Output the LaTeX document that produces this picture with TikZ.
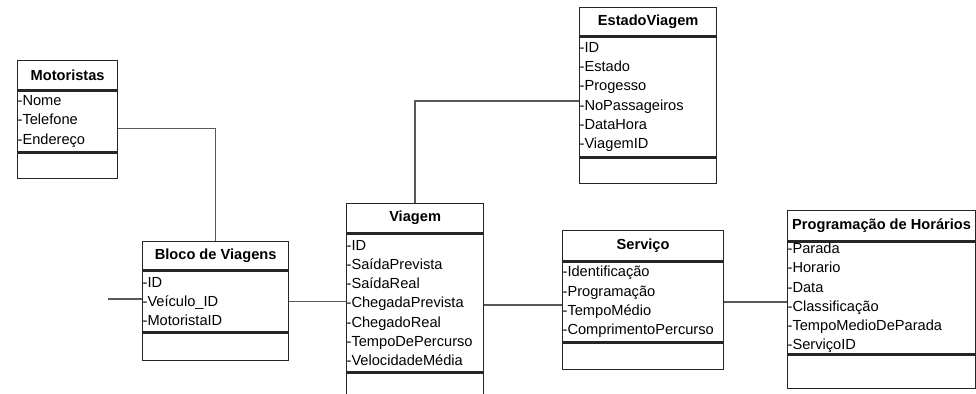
\documentclass[tikz,border=0pt]{standalone}
\usepackage{fontspec}
\setmainfont{Liberation Sans}
\usetikzlibrary{positioning}

\newdimen\pxu
\pxu=0.025cm

\tikzset{
  classbox/.style={draw=black!85, line width=0.9pt, inner sep=0pt,
    font=\fontsize{10.4}{13.7}\selectfont},
  classhead/.style={classbox, anchor=north west,
    font=\fontsize{10.4}{13.7}\selectfont\bfseries},
  classattrs/.style={classbox, align=left},
  classfoot/.style={classbox},
  assoc/.style={draw=black!65, line width=1.2pt}
}

\begin{document}
\begin{tikzpicture}[x=\pxu, y=-\pxu]
  \useasboundingbox (0,0) rectangle (976,394);
  \clip (0,0) rectangle (976,394);

  % Motoristas
  \node[classhead, minimum width=100\pxu, minimum height=29\pxu] (motoristas) at (17,60) {Motoristas};
  \node[classattrs, text width=100\pxu, minimum height=61\pxu, below=0pt of motoristas] (motoristas-attrs)
    {-Nome\\-Telefone\\-Endereço};
  \node[classfoot, minimum width=100\pxu, minimum height=25\pxu, below=0pt of motoristas-attrs] (motoristas-foot) {};

  % Bloco de Viagens
  \node[classhead, minimum width=146\pxu, minimum height=28\pxu] (bloco) at (142,241) {Bloco de Viagens};
  \node[classattrs, text width=146\pxu, minimum height=61\pxu, below=0pt of bloco] (bloco-attrs)
    {-ID\\-Veículo\_ID\\-MotoristaID};
  \node[classfoot, minimum width=146\pxu, minimum height=27\pxu, below=0pt of bloco-attrs] (bloco-foot) {};

  % Viagem
  \node[classhead, minimum width=137\pxu, minimum height=29\pxu] (viagem) at (346,203) {Viagem};
  \node[classattrs, text width=137\pxu, minimum height=138\pxu, below=0pt of viagem] (viagem-attrs)
    {-ID\\-SaídaPrevista\\-SaídaReal\\-ChegadaPrevista\\-ChegadoReal\\-TempoDePercurso\\-VelocidadeMédia};
  \node[classfoot, minimum width=137\pxu, minimum height=28\pxu, below=0pt of viagem-attrs] (viagem-foot) {};

  % EstadoViagem
  \node[classhead, minimum width=137\pxu, minimum height=28\pxu] (estado) at (579,7) {EstadoViagem};
  \node[classattrs, text width=137\pxu, minimum height=120\pxu, below=0pt of estado] (estado-attrs)
    {-ID\\-Estado\\-Progesso\\-NoPassageiros\\-DataHora\\-ViagemID};
  \node[classfoot, minimum width=137\pxu, minimum height=25\pxu, below=0pt of estado-attrs] (estado-foot) {};

  % Servico
  \node[classhead, minimum width=161\pxu, minimum height=30\pxu] (servico) at (562,230) {Serviço};
  \node[classattrs, text width=161\pxu, minimum height=80\pxu, below=0pt of servico] (servico-attrs)
    {-Identificação\\-Programação\\-TempoMédio\\-ComprimentoPercurso};
  \node[classfoot, minimum width=161\pxu, minimum height=26\pxu, below=0pt of servico-attrs] (servico-foot) {};

  % Programacao de Horarios
  \node[classhead, minimum width=188\pxu, minimum height=30\pxu] (horarios) at (787,210) {Programação de Horários};
  \node[classattrs, text width=188\pxu, minimum height=112\pxu, below=0pt of horarios] (horarios-attrs)
    {-Parada\\-Horario\\-Data\\-Classificação\\-TempoMedioDeParada\\-ServiçoID};
  \node[classfoot, minimum width=188\pxu, minimum height=33\pxu, below=0pt of horarios-attrs] (horarios-foot) {};

  % Associations
  \coordinate (blocoin) at (108,299);
  \draw[assoc] ([yshift=-7\pxu]motoristas-attrs.east) -| (bloco.north);
  \draw[assoc] ([yshift=-4\pxu]estado-attrs.west) -| (viagem.north);
  \draw[assoc] (blocoin) -- (blocoin -| bloco-attrs.west);
  \draw[assoc] (bloco-attrs.east) -- (bloco-attrs.east -| viagem-attrs.west);
  \draw[assoc] ([yshift=-2\pxu]viagem-attrs.east) -- ([yshift=-2\pxu]viagem-attrs.east -| servico-attrs.west);
  \draw[assoc] (servico-attrs.east) -- (servico-attrs.east -| horarios-attrs.west);
\end{tikzpicture}
\end{document}
